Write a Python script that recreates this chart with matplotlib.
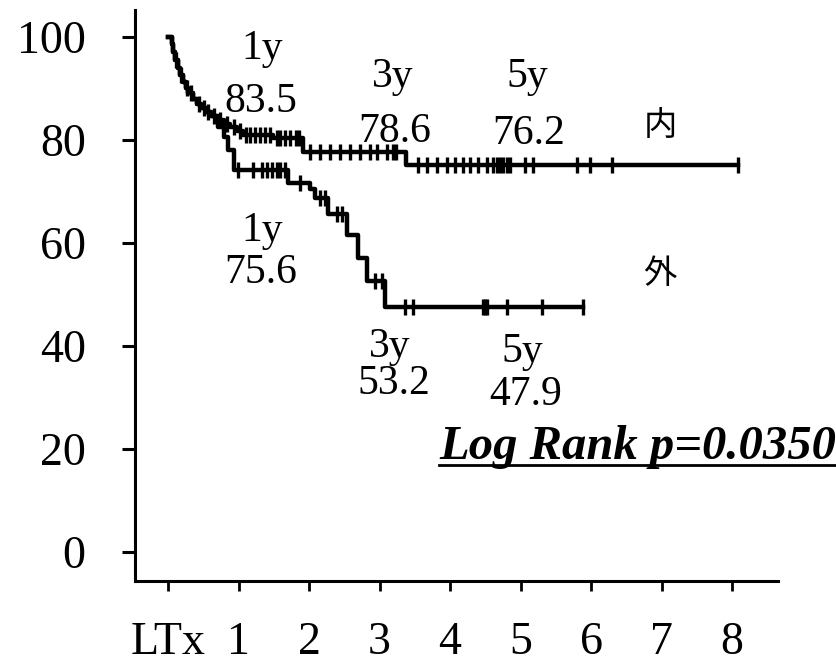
import numpy as np
import matplotlib
matplotlib.use("Agg")
import matplotlib.pyplot as plt
from matplotlib.lines import Line2D

# ----------------------------------------------------------------------
# Kaplan-Meier data (years, survival %)
inner_t = [0, 0.05, 0.07, 0.10, 0.14, 0.17, 0.21, 0.25, 0.29, 0.35, 0.41,
           0.47, 0.54, 0.61, 0.69, 0.79, 0.88, 0.98, 1.07, 1.49, 1.92, 3.38]
inner_s = [100, 98.5, 97, 95.5, 94, 92.5, 91.2, 90, 89, 88, 87,
           86.2, 85.4, 84.6, 83.8, 83, 82.4, 81.8, 81, 80.4, 77.7, 75.2]
inner_end = 8.09
inner_cens = [0.12, 0.19, 0.27, 0.32, 0.44, 0.51, 0.57, 0.65, 0.74, 0.83,
              0.93, 1.02, 1.10, 1.17, 1.24, 1.31, 1.37, 1.44, 1.54, 1.59,
              1.66, 1.73, 1.81, 1.86, 2.01, 2.16, 2.30, 2.44, 2.58, 2.72,
              2.87, 2.97, 3.10, 3.19, 3.24, 3.54, 3.67, 3.82, 3.96, 4.07,
              4.18, 4.28, 4.40, 4.53, 4.61, 4.66, 4.71, 4.75, 4.81, 4.85,
              5.06, 5.17, 5.80, 5.99, 6.30, 8.09]

outer_t = [0, 0.05, 0.07, 0.10, 0.14, 0.17, 0.21, 0.25, 0.29, 0.35, 0.41,
           0.47, 0.54, 0.61, 0.71, 0.79, 0.85, 0.93, 1.70, 2.01, 2.08,
           2.27, 2.54, 2.70, 2.82, 3.08]
outer_s = [100, 98.5, 97, 95.5, 94, 92.5, 91.2, 90, 89, 88, 87,
           86.2, 85.4, 84.6, 82.5, 80.5, 78, 74.2, 71.6, 70.4, 68.7,
           65.6, 61.5, 57, 52.7, 47.5]
outer_end = 5.89
outer_cens = [0.99, 1.21, 1.34, 1.40, 1.47, 1.55, 1.59, 1.66, 1.87, 2.16,
              2.23, 2.40, 2.47, 2.94, 3.03, 3.36, 3.47, 4.47, 4.50, 4.53,
              4.81, 5.30, 5.89]

x_ticks = [0, 1, 2, 3, 4, 5, 6, 7, 8]
x_labels = ["LTx", "1", "2", "3", "4", "5", "6", "7", "8"]
y_ticks = [0, 20, 40, 60, 80, 100]

# annotations: (text, t, survival at baseline)
inner_notes = [("1y", 1.33, 95.6), ("83.5", 1.31, 85.4),
               ("3y", 3.19, 90.3), ("78.6", 3.22, 79.5),
               ("5y", 5.09, 90.3), ("76.2", 5.12, 79.2)]
outer_notes = [("1y", 1.34, 60.4), ("75.6", 1.31, 52.3),
               ("3y", 3.15, 37.8), ("53.2", 3.20, 30.6),
               ("5y", 5.02, 36.8), ("47.9", 5.07, 28.5)]
group_names = [("内", 6.98, 82.7), ("外", 6.97, 54.1)]
p_text = "Log Rank p=0.0350"


def step_value(ts, ss, t):
    i = np.searchsorted(ts, t, side="right") - 1
    return np.asarray(ss)[i]


# ----------------------------------------------------------------------
plt.rcParams["font.family"] = ["Liberation Serif", "DejaVu Serif"]

fig = plt.figure(figsize=(8.37, 6.67), dpi=100)
ax = fig.add_axes([0.1613, 0.1289, 0.7682, 0.8561])
ax.set_xlim(-0.468, 8.652)
ax.set_ylim(-5.6, 105.18)

for ts, ss, t_end, cens in [(inner_t, inner_s, inner_end, inner_cens),
                            (outer_t, outer_s, outer_end, outer_cens)]:
    xs = list(ts) + [t_end]
    ys = list(ss) + [ss[-1]]
    ax.step(xs, ys, where="post", color="black", lw=3.2)
    cy = [step_value(ts, ss, c) for c in cens]
    ax.plot(cens, cy, ls="none", marker="|", ms=11, mew=2.4, color="black")

for txt, t, s in inner_notes + outer_notes:
    ax.text(t, s, txt, fontsize=30, ha="center", va="baseline")

for txt, t, s in group_names:
    ax.text(t, s, txt, fontsize=24, ha="center", va="center",
            family=["Noto Sans CJK JP", "DejaVu Sans"])

for side in ["top", "right"]:
    ax.spines[side].set_visible(False)
for side in ["left", "bottom"]:
    ax.spines[side].set_linewidth(2.2)

ax.set_xticks(x_ticks)
ax.set_xticklabels(x_labels)
ax.set_yticks(y_ticks)
ax.tick_params(axis="y", direction="out", length=9.5, width=2.2,
               labelsize=33, pad=26)
ax.tick_params(axis="x", direction="out", length=7, width=2.0,
               labelsize=33, pad=22)

pt = fig.text(836 / 837, (667 - 459) / 667, p_text, fontsize=35,
              fontweight="bold", fontstyle="italic", ha="right",
              va="baseline")
fig.canvas.draw()
bb = pt.get_window_extent(renderer=fig.canvas.get_renderer())
uy = (667 - 465) / 667
fig.add_artist(Line2D([bb.x0 / 837, bb.x1 / 837], [uy, uy], lw=2.0,
                      color="black", transform=fig.transFigure))

fig.savefig("out.png", dpi=100)
